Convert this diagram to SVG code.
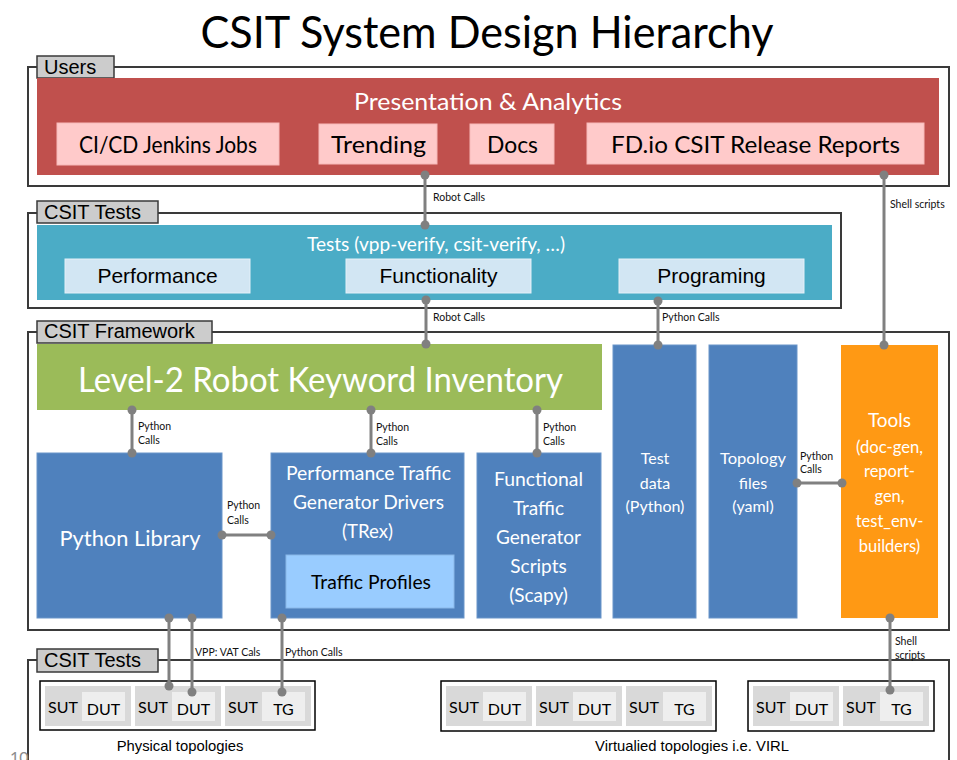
<svg xmlns="http://www.w3.org/2000/svg" width="957" height="760" viewBox="0 0 957 760">
<style>
.t{font-family:Lato,"Liberation Sans",sans-serif}
.a{font-family:"Liberation Sans",Arial,sans-serif}
.w{fill:#ffffff}
.k{fill:#000000}
.m{text-anchor:middle}
.frame{fill:none;stroke:#3a3a3a;stroke-width:2}
.tab{fill:#cccccc;stroke:#3a3a3a;stroke-width:1.5}
.tabtxt{font-family:"Liberation Sans",Arial,sans-serif;font-size:20px;fill:#000}
.pink{fill:#ffcaca;stroke:#f7b9b9;stroke-width:1}
.lb{fill:#d2e6f3;stroke:#e4f0f8;stroke-width:1}
.blue{fill:#4f81bd;stroke:#6a95c9;stroke-width:1}
.topo{fill:#ffffff;stroke:#000;stroke-width:1.5}
.cell{fill:#d9d9d9}
.inner{fill:#eeeeee}
.cl{font-family:Lato,"Liberation Sans",sans-serif;font-size:16px;fill:#000}
.lbl{font-family:Lato,"Liberation Sans",sans-serif;font-size:10.5px;fill:#111}
#connectors line{stroke:#808080;stroke-width:3}
#connectors circle{fill:#808080}
</style>
<rect width="957" height="760" fill="#ffffff"/>

<text class="t m k" x="487" y="48" font-size="44" textLength="573" lengthAdjust="spacingAndGlyphs">CSIT System Design Hierarchy</text>

<!-- Users layer -->
<g id="users-frame">
  <rect class="frame" x="28" y="67" width="921" height="119"/>
  <rect class="tab" x="37" y="56" width="77" height="22"/>
  <text class="tabtxt" x="44" y="74">Users</text>
</g>
<g id="presentation">
  <rect x="37" y="78" width="902" height="97" fill="#c0504d"/>
  <text class="t m w" x="488" y="110" font-size="24" textLength="268" lengthAdjust="spacingAndGlyphs">Presentation &amp; Analytics</text>
</g>
<g id="jenkins">
  <rect class="pink" x="57" y="123" width="222" height="42"/>
  <text class="t m k" x="168" y="153" font-size="23" textLength="178" lengthAdjust="spacingAndGlyphs">CI/CD Jenkins Jobs</text>
</g>
<g id="trending">
  <rect class="pink" x="319" y="124" width="118" height="40"/>
  <text class="t m k" x="378.5" y="153" font-size="24" textLength="95" lengthAdjust="spacingAndGlyphs">Trending</text>
</g>
<g id="docs">
  <rect class="pink" x="470" y="124" width="84" height="40"/>
  <text class="t m k" x="512.5" y="153" font-size="24" textLength="51" lengthAdjust="spacingAndGlyphs">Docs</text>
</g>
<g id="reports">
  <rect class="pink" x="587" y="123" width="337" height="41"/>
  <text class="t m k" x="755.5" y="153" font-size="24" textLength="289" lengthAdjust="spacingAndGlyphs">FD.io CSIT Release Reports</text>
</g>

<!-- CSIT Tests layer -->
<g id="tests-frame">
  <rect class="frame" x="28" y="213" width="813" height="95"/>
  <rect class="tab" x="37" y="201" width="121" height="22"/>
  <text class="tabtxt" x="44" y="219">CSIT Tests</text>
</g>
<g id="tests">
  <rect x="37" y="225" width="795" height="75" fill="#4bacc6"/>
  <text class="t m w" x="436" y="251" font-size="19.5" textLength="258" lengthAdjust="spacingAndGlyphs">Tests (vpp-verify, csit-verify, …)</text>
</g>
<g id="performance">
  <rect class="lb" x="65" y="259" width="185" height="34"/>
  <text class="a m k" x="157.5" y="283" font-size="21">Performance</text>
</g>
<g id="functionality">
  <rect class="lb" x="346" y="259" width="185" height="34"/>
  <text class="a m k" x="438.5" y="283" font-size="21">Functionality</text>
</g>
<g id="programing">
  <rect class="lb" x="619" y="259" width="185" height="34"/>
  <text class="a m k" x="711.5" y="283" font-size="21">Programing</text>
</g>

<!-- CSIT Framework layer -->
<g id="framework-frame">
  <rect class="frame" x="28" y="332" width="921" height="298"/>
  <rect class="tab" x="37" y="321" width="175" height="22"/>
  <text class="tabtxt" x="44" y="338">CSIT Framework</text>
</g>
<g id="keywords">
  <rect x="37" y="344" width="565" height="66" fill="#9bbb59"/>
  <text class="t m w" x="320.5" y="392" font-size="35" textLength="485" lengthAdjust="spacingAndGlyphs">Level-2 Robot Keyword Inventory</text>
</g>
<g id="python-library">
  <rect class="blue" x="37" y="453" width="185" height="165"/>
  <text class="t m w" x="130" y="546" font-size="22" textLength="141" lengthAdjust="spacingAndGlyphs">Python Library</text>
</g>
<g id="perf-tg-drivers">
  <rect class="blue" x="271" y="453" width="193" height="165"/>
  <text class="t m w" x="368.5" y="480" font-size="19" textLength="165" lengthAdjust="spacingAndGlyphs">Performance Traffic</text>
  <text class="t m w" x="368.5" y="509" font-size="19" textLength="151" lengthAdjust="spacingAndGlyphs">Generator Drivers</text>
  <text class="t m w" x="367.5" y="538" font-size="19" textLength="51" lengthAdjust="spacingAndGlyphs">(TRex)</text>
</g>
<g id="traffic-profiles">
  <rect x="286" y="555" width="168" height="53" fill="#99ccff" stroke="#8ab8e8" stroke-width="1"/>
  <text class="t m k" x="371" y="589" font-size="18.5" textLength="120" lengthAdjust="spacingAndGlyphs">Traffic Profiles</text>
</g>
<g id="functional-tg">
  <rect class="blue" x="477" y="453" width="124" height="165"/>
  <text class="t m w" x="538.5" y="486" font-size="19" textLength="89" lengthAdjust="spacingAndGlyphs">Functional</text>
  <text class="t m w" x="538.5" y="515" font-size="19">Traffic</text>
  <text class="t m w" x="538.5" y="544" font-size="19">Generator</text>
  <text class="t m w" x="538.5" y="573" font-size="19">Scripts</text>
  <text class="t m w" x="538.5" y="602" font-size="19">(Scapy)</text>
</g>
<g id="test-data">
  <rect class="blue" x="613" y="345" width="83" height="273"/>
  <text class="t m w" x="655" y="464" font-size="16">Test</text>
  <text class="t m w" x="655" y="489" font-size="16">data</text>
  <text class="t m w" x="655" y="512" font-size="16">(Python)</text>
</g>
<g id="topology-files">
  <rect class="blue" x="709" y="345" width="88" height="273"/>
  <text class="t m w" x="753" y="464" font-size="16" textLength="66" lengthAdjust="spacingAndGlyphs">Topology</text>
  <text class="t m w" x="753" y="489" font-size="16">files</text>
  <text class="t m w" x="753" y="512" font-size="16">(yaml)</text>
</g>
<g id="tools">
  <rect x="841" y="345" width="97" height="273" fill="#ff9914"/>
  <text class="t m w" x="889.5" y="427" font-size="19" textLength="43" lengthAdjust="spacingAndGlyphs">Tools</text>
  <text class="t m w" x="889.5" y="453" font-size="16.5" textLength="67" lengthAdjust="spacingAndGlyphs">(doc-gen,</text>
  <text class="t m w" x="889.5" y="477" font-size="16.5">report-</text>
  <text class="t m w" x="889.5" y="502" font-size="16.5">gen,</text>
  <text class="t m w" x="889.5" y="527" font-size="16.5">test_env-</text>
  <text class="t m w" x="889.5" y="552" font-size="16.5">builders)</text>
</g>

<!-- Bottom CSIT Tests layer -->
<g id="bottom-tests-frame">
  <path class="frame" d="M28,762 V660 H949 V762"/>
  <rect class="tab" x="37" y="649" width="121" height="23"/>
  <text class="tabtxt" x="44" y="667">CSIT Tests</text>
</g>
<g id="physical-topologies">
  <rect class="topo" x="40" y="681" width="275" height="49"/>
  <rect class="cell" x="45" y="686" width="86" height="40"/>
  <rect class="inner" x="82" y="692" width="43" height="29"/>
  <text class="cl" x="48" y="713">SUT</text>
  <text class="cl m" x="103.5" y="715">DUT</text>
  <rect class="cell" x="135" y="686" width="86" height="40"/>
  <rect class="inner" x="172" y="692" width="43" height="29"/>
  <text class="cl" x="138" y="713">SUT</text>
  <text class="cl m" x="193.5" y="715">DUT</text>
  <rect class="cell" x="225" y="686" width="86" height="40"/>
  <rect class="inner" x="262" y="692" width="43" height="29"/>
  <text class="cl" x="228" y="713">SUT</text>
  <text class="cl m" x="283.5" y="715">TG</text>
  <text class="a m k" x="180" y="751" font-size="14.8">Physical topologies</text>
</g>
<g id="virtual-topologies">
  <rect class="topo" x="441" y="681" width="275" height="50"/>
  <rect class="cell" x="446" y="686" width="86" height="40"/>
  <rect class="inner" x="483" y="692" width="43" height="29"/>
  <text class="cl" x="449" y="713">SUT</text>
  <text class="cl m" x="504.5" y="715">DUT</text>
  <rect class="cell" x="536" y="686" width="86" height="40"/>
  <rect class="inner" x="573" y="692" width="43" height="29"/>
  <text class="cl" x="539" y="713">SUT</text>
  <text class="cl m" x="594.5" y="715">DUT</text>
  <rect class="cell" x="626" y="686" width="86" height="40"/>
  <rect class="inner" x="663" y="692" width="43" height="29"/>
  <text class="cl" x="629" y="713">SUT</text>
  <text class="cl m" x="684.5" y="715">TG</text>
  <rect class="topo" x="748" y="681" width="186" height="50"/>
  <rect class="cell" x="753" y="686" width="86" height="40"/>
  <rect class="inner" x="790" y="692" width="43" height="29"/>
  <text class="cl" x="756" y="713">SUT</text>
  <text class="cl m" x="811.5" y="715">DUT</text>
  <rect class="cell" x="843" y="686" width="86" height="40"/>
  <rect class="inner" x="880" y="692" width="43" height="29"/>
  <text class="cl" x="846" y="713">SUT</text>
  <text class="cl m" x="901.5" y="715">TG</text>
  <text class="a m k" x="692" y="751" font-size="14.8">Virtualied topologies i.e. VIRL</text>
</g>

<text class="t" x="10" y="763" font-size="16" fill="#8c8c8c">10</text>

<!-- Connectors -->
<g id="connectors">
  <line x1="425" y1="175" x2="425" y2="225"/>
  <circle cx="425" cy="175" r="4.5"/><circle cx="425" cy="225" r="4.5"/>
  <text class="lbl" x="433" y="201">Robot Calls</text>

  <line x1="884" y1="175" x2="884" y2="345"/>
  <circle cx="884" cy="175" r="4.5"/><circle cx="884" cy="345" r="4.5"/>
  <text class="lbl" x="890" y="208">Shell scripts</text>

  <line x1="426" y1="300" x2="426" y2="344"/>
  <circle cx="426" cy="300" r="4.5"/><circle cx="426" cy="344" r="4.5"/>
  <text class="lbl" x="433" y="321">Robot Calls</text>

  <line x1="658" y1="301" x2="658" y2="345"/>
  <circle cx="658" cy="301" r="4.5"/><circle cx="658" cy="345" r="4.5"/>
  <text class="lbl" x="662" y="321">Python Calls</text>

  <line x1="132" y1="410" x2="132" y2="453"/>
  <circle cx="132" cy="410" r="4.5"/><circle cx="132" cy="453" r="4.5"/>
  <text class="lbl" x="138" y="430">Python</text>
  <text class="lbl" x="138" y="444">Calls</text>

  <line x1="371" y1="410" x2="371" y2="453"/>
  <circle cx="371" cy="410" r="4.5"/><circle cx="371" cy="453" r="4.5"/>
  <text class="lbl" x="376" y="431">Python</text>
  <text class="lbl" x="376" y="445">Calls</text>

  <line x1="537" y1="410" x2="537" y2="453"/>
  <circle cx="537" cy="410" r="4.5"/><circle cx="537" cy="453" r="4.5"/>
  <text class="lbl" x="543" y="431">Python</text>
  <text class="lbl" x="543" y="445">Calls</text>

  <line x1="222" y1="535" x2="271" y2="535"/>
  <circle cx="222" cy="535" r="4.5"/><circle cx="271" cy="535" r="4.5"/>
  <text class="lbl" x="227" y="509">Python</text>
  <text class="lbl" x="227" y="524">Calls</text>

  <line x1="797" y1="483" x2="842" y2="483"/>
  <circle cx="797" cy="483" r="4.5"/><circle cx="842" cy="483" r="4.5"/>
  <text class="lbl" x="800" y="460">Python</text>
  <text class="lbl" x="800" y="473">Calls</text>

  <line x1="890" y1="618" x2="890" y2="690"/>
  <circle cx="890" cy="618" r="4.5"/><circle cx="890" cy="690" r="4.5"/>
  <text class="lbl" x="895" y="645">Shell</text>
  <text class="lbl" x="895" y="659">scripts</text>

  <line x1="169" y1="618" x2="169" y2="686"/>
  <circle cx="169" cy="618" r="4.5"/><circle cx="169" cy="686" r="4.5"/>
  <line x1="192" y1="618" x2="192" y2="692"/>
  <circle cx="192" cy="618" r="4.5"/><circle cx="192" cy="692" r="4.5"/>
  <text class="lbl" x="195" y="656">VPP: VAT Cals</text>

  <line x1="282" y1="618" x2="282" y2="692"/>
  <circle cx="282" cy="618" r="4.5"/><circle cx="282" cy="692" r="4.5"/>
  <text class="lbl" x="285" y="656">Python Calls</text>
</g>
</svg>
